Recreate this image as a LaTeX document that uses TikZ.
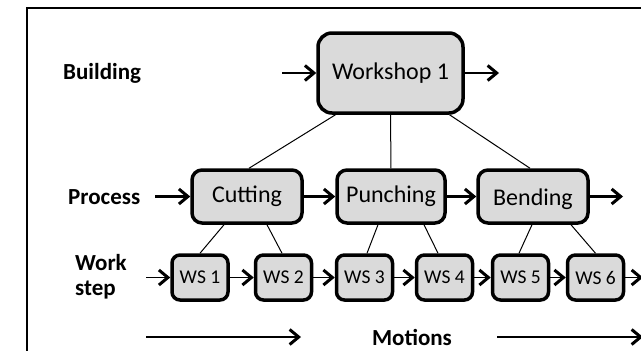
\documentclass[tikz,border=0pt]{standalone}
\usepackage{fontspec}
\setmainfont{Carlito}
\usetikzlibrary{arrows.meta}
\definecolor{boxfill}{HTML}{DADADA}
\begin{document}
\begin{tikzpicture}[x=1pt,y=-1pt,
  bigbox/.style={draw=black,line width=3.5pt,fill=boxfill,rounded corners=14pt,
    minimum width=145pt,minimum height=80pt,inner sep=0pt,
    font=\fontsize{24}{28}\selectfont},
  procbox/.style={draw=black,line width=3.5pt,fill=boxfill,rounded corners=10pt,
    minimum height=53pt,inner sep=0pt,font=\fontsize{24}{28}\selectfont},
  wsbox/.style={draw=black,line width=3.5pt,fill=boxfill,rounded corners=8pt,
    minimum width=56pt,minimum height=45pt,inner sep=0pt,
    font=\fontsize{19.5}{24}\selectfont},
  rowlabel/.style={anchor=west,inner sep=0pt,align=left,
    font=\fontsize{23}{25}\selectfont\bfseries},
  bigarrow/.style={line width=2.8pt,-{Straight Barb[length=9pt,width=15pt,line width=3pt]}},
  thinarrow/.style={line width=1.5pt,-{Straight Barb[length=9pt,width=15pt,line width=3pt]}},
  tree/.style={line width=1pt}]
\useasboundingbox (0,0) rectangle (641,351);
\clip (0,0) rectangle (641,351);
\fill[white] (0,0) rectangle (641,351);
% frame
\draw[line width=2pt] (27,360) -- (27,8) -- (660,8);

% labels
\node[rowlabel] (lbuild) at (63,73) {Building};
\node[rowlabel] (lproc) at (68,197) {Process};
\node[rowlabel] (lwork) at (75,277) {Work\\step};
\node[font=\fontsize{23}{25}\selectfont\bfseries,inner sep=0pt] (lmot) at (412,337) {Motions};

% boxes
\node[bigbox] (ws) at (390.5,73) {Workshop 1};
\node[procbox,minimum width=110pt] (cut) at (247,196.5) {Cutting};
\node[procbox,minimum width=108pt] (pun) at (391,196.5) {Punching};
\node[procbox,minimum width=110pt,text depth=2pt] (ben) at (533,196.5) {\raisebox{-3pt}{Bending}};
\node[wsbox] (w1) at (200,277.5) {WS 1};
\node[wsbox] (w2) at (283.5,277.5) {WS 2};
\node[wsbox] (w3) at (364.5,277.5) {WS 3};
\node[wsbox] (w4) at (444.5,277.5) {WS 4};
\node[wsbox] (w5) at (520.5,277.5) {WS 5};
\node[wsbox] (w6) at (595.5,277.5) {WS 6};

% free ends
\coordinate (bin) at (282,73);
\coordinate (bout) at (499,73);
\coordinate (pin) at (155,196.5);
\coordinate (pout) at (623,196.5);
\coordinate (win) at (146,277.5);
\coordinate (wout) at (643,277.5);
\coordinate (m1a) at (146,337);
\coordinate (m1b) at (301,337);
\coordinate (m2a) at (497,337);
\coordinate (m2b) at (643,337);

% tree lines
\draw[tree] ([xshift=-55pt]ws.south) -- ([xshift=2pt]cut.north);
\draw[tree] (ws.south) -- (pun.north);
\draw[tree] ([xshift=59pt]ws.south) -- ([xshift=-3pt]ben.north);
\draw[tree] ([xshift=-23pt]cut.south) -- (w1.north);
\draw[tree] ([xshift=20pt]cut.south) -- ([xshift=-1.5pt]w2.north);
\draw[tree] ([xshift=-13pt]pun.south) -- ([xshift=2.5pt]w3.north);
\draw[tree] ([xshift=33pt]pun.south) -- ([xshift=-6.5pt]w4.north);
\draw[tree] ([xshift=-1pt]ben.south) -- ([xshift=-1.5pt]w5.north);
\draw[tree] ([xshift=38pt]ben.south) -- (w6.north);

% flow arrows
\draw[bigarrow] (bin) -- (ws.west);
\draw[bigarrow] (ws.east) -- (bout);
\draw[bigarrow] (pin) -- (cut.west);
\draw[bigarrow] (cut.east) -- (pun.west);
\draw[bigarrow] (pun.east) -- (ben.west);
\draw[bigarrow] (ben.east) -- (pout);
\draw[thinarrow] (win) -- (w1.west);
\draw[thinarrow] (w1.east) -- (w2.west);
\draw[thinarrow] (w2.east) -- (w3.west);
\draw[thinarrow] (w3.east) -- (w4.west);
\draw[thinarrow] (w4.east) -- (w5.west);
\draw[thinarrow] (w5.east) -- (w6.west);
\draw[thinarrow] (w6.east) -- (wout);
\draw[thinarrow] (m1a) -- (m1b);
\draw[thinarrow] (m2a) -- (m2b);
\end{tikzpicture}
\end{document}
